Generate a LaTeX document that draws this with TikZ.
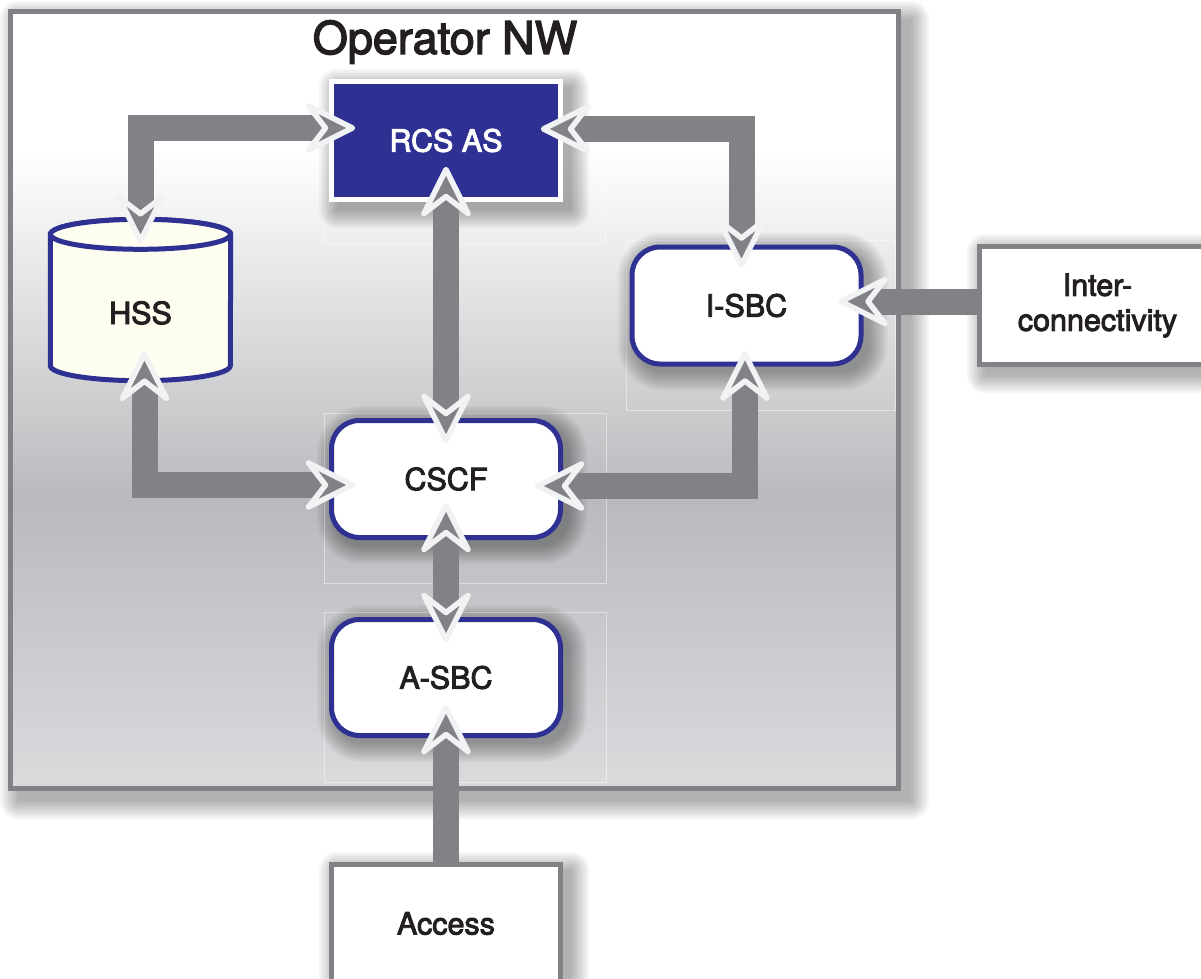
\documentclass[tikz,border=0pt]{standalone}
\usepackage{fontspec}
\setmainfont{TeX Gyre Heros}[BoldFont=TeX Gyre Heros, BoldFeatures={FakeBold=3}]

\definecolor{linkgray}{HTML}{808285}
\definecolor{framegray}{HTML}{808285}
\definecolor{navy}{HTML}{2E3192}
\definecolor{ivory}{HTML}{FDFDF0}
\definecolor{tipedge}{HTML}{F1F2F3}
\definecolor{inkblack}{HTML}{231F20}
\definecolor{bgmid}{HTML}{B9BABD}
\definecolor{bglow}{HTML}{DADBDD}

% backdrop of the operator network: white at the top, grey in the middle, lighter at the bottom
\pgfdeclareverticalshading{opbg}{100bp}{color(0bp)=(bglow); color(25bp)=(bglow); color(43.6bp)=(bgmid); color(66bp)=(white); color(100bp)=(white)}

\pgfdeclarelayer{deepshadow}
\pgfdeclarelayer{bglayer}
\pgfdeclarelayer{shadowlayer}
\pgfdeclarelayer{shapelayer}
\pgfsetlayers{deepshadow,bglayer,shadowlayer,shapelayer,main}

% soft drop shadow behind a node: #1 node, #2 corner radius, #3 offset
\newcommand{\softshade}[3]{%
  \foreach \k in {0,...,9}{%
    \pgfmathsetmacro\shspread{\k*2}%
    \fill[black, opacity=0.035, rounded corners={#2+\shspread}]
      ([shift={(#3-\shspread,#3-\shspread)}]#1.north west) rectangle
      ([shift={(#3+\shspread,#3+\shspread)}]#1.south east);
  }%
}

\begin{document}
\begin{tikzpicture}[x=1pt,y=-1pt,
  every node/.style={text=inkblack, font=\fontsize{30.5}{35}\selectfont\bfseries, inner sep=0pt},
  unit/.style={draw=navy, line width=5pt, fill=white, rounded corners=28pt,
    minimum width=229pt, minimum height=117pt},
  appbox/.style={draw=white, line width=5pt, fill=navy, text=white,
    minimum width=229pt, minimum height=118pt},
  dbnode/.style={minimum width=180pt, minimum height=146pt},
  cyl/.style={draw=navy, line width=5pt, fill=ivory},
  extbox/.style={draw=framegray, line width=5pt, fill=white, align=center},
  opframe/.style={draw=framegray, line width=5pt, shading=opbg,
    minimum width=888pt, minimum height=777pt},
  faint/.style={draw=white, draw opacity=0.45, line width=0.8pt},
  link/.style={draw=linkgray, line width=26pt},
  both/.style={shorten <=30pt, shorten >=30pt},
  into/.style={shorten >=30pt},
  pics/dartpic/.style={code={
    \filldraw[fill=linkgray, draw=tipedge, line width=5.5pt, line join=round]
      (-2.5,0) -- (-46.5,22) -- (-29.5,0) -- (-46.5,-22) -- cycle;}},
]
\useasboundingbox (0,0) rectangle (1201,978);

% operator network frame
\begin{pgfonlayer}{bglayer}
  \node[opframe] (nw) at (454.5,400) {};
  \draw[faint] (324,70) rectangle (605,243);
  \draw[faint] (626,240) rectangle (895,410);
  \draw[faint] (324,413) rectangle (606,583);
  \draw[faint] (324,612) rectangle (606,782);
\end{pgfonlayer}
\begin{pgfonlayer}{deepshadow}
  \softshade{nw}{0}{10}
\end{pgfonlayer}

\node[font=\fontsize{45}{50}\selectfont\bfseries] (title) at (445,42) {Operator NW};

% network elements
\node[appbox] (rcs) at (446,140.5) {RCS AS};
\node[unit] (isbc) at (746.5,305.5) {I-SBC};
\node[unit] (cscf) at (446,479) {CSCF};
\node[unit, minimum height=116pt] (asbc) at (446,677.5) {A-SBC};
\node[dbnode] (hss) at (140.5,307.5) {\raisebox{-16.5pt}[0pt][0pt]{HSS}};
\node[extbox, minimum width=229pt, minimum height=118pt] (access) at (446,923.5) {Access};
\node[extbox, minimum width=236pt, minimum height=118pt] (inter) at (1097.5,305.5) {Inter-\\connectivity};

\begin{pgfonlayer}{shadowlayer}
  \softshade{rcs}{0}{8}
  \softshade{isbc}{28}{6}
  \softshade{cscf}{28}{6}
  \softshade{asbc}{28}{6}
  \softshade{access}{0}{8}
  \softshade{inter}{0}{8}
\end{pgfonlayer}

% HSS database cylinder
\begin{pgfonlayer}{shapelayer}
  \draw[cyl] (hss.north west) -- ([yshift=15pt]hss.south west)
    arc[start angle=180, end angle=0, x radius=90, y radius=15]
    -- (hss.north east)
    arc[start angle=0, end angle=-180, x radius=90, y radius=15] -- cycle;
  \draw[cyl] (hss.north) ellipse[x radius=90, y radius=15];
\end{pgfonlayer}

% interfaces: grey bars, then the dart heads on top
\draw[link, both] ([yshift=-9pt]hss.north) |- ([shift={(26pt,12.5pt)}]rcs.west);
\draw[link, both] ([shift={(-22pt,11.5pt)}]rcs.east) -| ([shift={(-5pt,-23pt)}]isbc.north);
\draw[link, both] ([yshift=35pt]rcs.south) -- ([yshift=-25pt]cscf.north);
\draw[link, both] ([shift={(4pt,29pt)}]hss.south) |- ([shift={(26pt,-6pt)}]cscf.west);
\draw[link, both] ([shift={(-1.5pt,15pt)}]isbc.south) |- ([shift={(-28pt,-7pt)}]cscf.east);
\draw[link, both] ([yshift=37pt]cscf.south) -- ([yshift=-25pt]asbc.north);
\draw[link, into] (access.north) -- ([yshift=33pt]asbc.south);
\draw[link, into] ([yshift=4pt]inter.west) -- ([shift={(-25pt,4pt)}]isbc.east);

\pic[rotate=-90] at ([yshift=-9pt]hss.north) {dartpic};
\pic at ([shift={(26pt,12.5pt)}]rcs.west) {dartpic};
\pic[rotate=180] at ([shift={(-22pt,11.5pt)}]rcs.east) {dartpic};
\pic[rotate=-90] at ([shift={(-5pt,-23pt)}]isbc.north) {dartpic};
\pic[rotate=90] at ([yshift=35pt]rcs.south) {dartpic};
\pic[rotate=-90] at ([yshift=-25pt]cscf.north) {dartpic};
\pic[rotate=90] at ([shift={(4pt,29pt)}]hss.south) {dartpic};
\pic at ([shift={(26pt,-6pt)}]cscf.west) {dartpic};
\pic[rotate=90] at ([shift={(-1.5pt,15pt)}]isbc.south) {dartpic};
\pic[rotate=180] at ([shift={(-28pt,-7pt)}]cscf.east) {dartpic};
\pic[rotate=90] at ([yshift=37pt]cscf.south) {dartpic};
\pic[rotate=-90] at ([yshift=-25pt]asbc.north) {dartpic};
\pic[rotate=90] at ([yshift=33pt]asbc.south) {dartpic};
\pic[rotate=180] at ([shift={(-25pt,4pt)}]isbc.east) {dartpic};
\end{tikzpicture}
\end{document}
